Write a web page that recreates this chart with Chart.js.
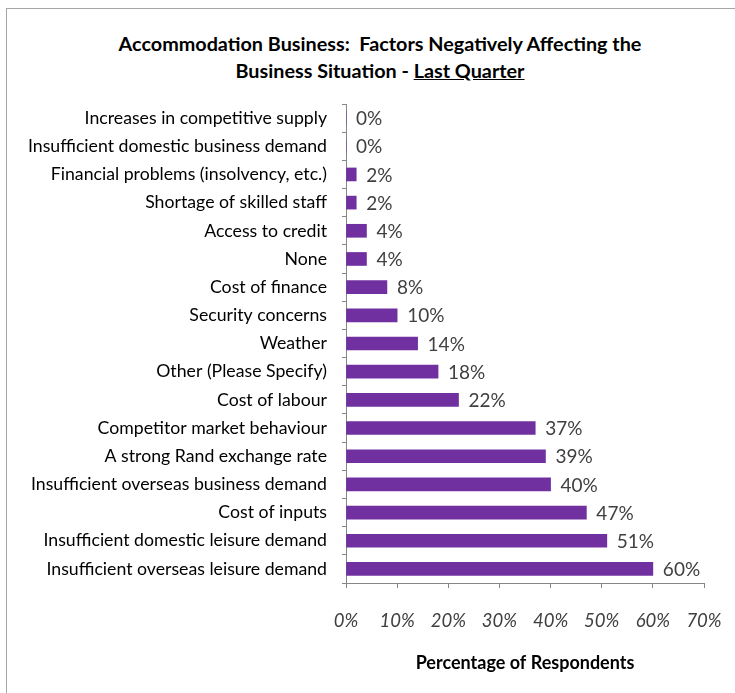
<!DOCTYPE html>
<html>
<head>
<meta charset="utf-8">
<script src="https://cdn.jsdelivr.net/npm/chart.js@4.4.1/dist/chart.umd.min.js"></script>
<style>
  html, body {
    margin: 0;
    padding: 0;
    background: #ffffff;
    overflow: hidden;
  }
  .frame {
    position: absolute;
    left: 6px;
    top: 8px;
    width: 760px;
    height: 720px;
    border: 1px solid #a6a6a6;
    box-sizing: border-box;
  }
  .title {
    position: absolute;
    left: 0;
    top: 30px;
    width: 760px;
    text-align: center;
    font-family: Lato, sans-serif;
    font-weight: bold;
    font-size: 19.8px;
    line-height: 27px;
    color: #000000;
  }
  .wrap {
    position: absolute;
    left: 0;
    top: 0;
    width: 735px;
    height: 693px;
  }
</style>
</head>
<body>
<div class="frame"></div>
<div class="title">Accommodation Business:&nbsp; Factors Negatively Affecting the<br>Business Situation - <u>Last Quarter</u></div>
<div class="wrap"><canvas id="chart"></canvas></div>
<script>
// Factors, top to bottom as they appear on the chart
const factors = [
  'Increases in competitive supply',
  'Insufficient domestic business demand',
  'Financial problems (insolvency, etc.)',
  'Shortage of skilled staff',
  'Access to credit',
  'None',
  'Cost of finance',
  'Security concerns',
  'Weather',
  'Other (Please Specify)',
  'Cost of labour',
  'Competitor market behaviour',
  'A strong Rand exchange rate',
  'Insufficient overseas business demand',
  'Cost of inputs',
  'Insufficient domestic leisure demand',
  'Insufficient overseas leisure demand'
];

// Share of respondents (%)
const respondents = [0, 0, 2, 2, 4, 4, 8, 10, 14, 18, 22, 37, 39, 40, 47, 51, 60];

// Axis range and step for the percentage scale
const axisMax = 70;
const axisStep = 10;

const barColour = '#7030a0';
const textColour = '#404040';
const lineColour = '#868686';

// Draws the "NN%" value just past the end of each bar
const valueLabels = {
  id: 'valueLabels',
  afterDatasetsDraw(chart) {
    const ctx = chart.ctx;
    const meta = chart.getDatasetMeta(0);
    ctx.save();
    ctx.font = '19px Lato, sans-serif';
    ctx.fillStyle = textColour;
    ctx.textAlign = 'left';
    ctx.textBaseline = 'middle';
    meta.data.forEach((bar, i) => {
      ctx.fillText(respondents[i] + '%', bar.x + 10, bar.y + 1);
    });
    ctx.restore();
  }
};

new Chart(document.getElementById('chart'), {
  type: 'bar',
  data: {
    labels: factors,
    datasets: [{
      data: respondents,
      backgroundColor: barColour,
      borderWidth: 0,
      barThickness: 13
    }]
  },
  options: {
    indexAxis: 'y',
    responsive: true,
    maintainAspectRatio: false,
    animation: false,
    layout: {
      padding: { top: 104, right: 31, left: 0, bottom: 15 }
    },
    plugins: {
      legend: { display: false },
      tooltip: { enabled: false }
    },
    scales: {
      x: {
        min: 0,
        max: axisMax,
        afterFit(scale) {
          scale.height = 95;
          // let the last tick label hang into the right padding
          scale.paddingLeft = 0;
          scale.paddingRight = 0;
        },
        grid: {
          drawOnChartArea: false,
          drawTicks: true,
          tickLength: 5,
          color: lineColour
        },
        border: { display: true, color: lineColour, width: 1 },
        ticks: {
          stepSize: axisStep,
          padding: 22,
          color: textColour,
          font: { family: 'Lato, sans-serif', size: 18.5, style: 'italic' },
          callback: (v) => v + '%'
        },
        title: {
          display: true,
          text: 'Percentage of Respondents',
          color: '#000000',
          font: { family: 'Lato, sans-serif', size: 18, weight: 'bold' }
        }
      },
      y: {
        afterFit(scale) { scale.width = 346; },
        grid: {
          offset: true,
          drawOnChartArea: false,
          drawTicks: true,
          tickLength: 4,
          color: lineColour
        },
        border: { display: true, color: lineColour, width: 1 },
        ticks: {
          padding: 15,
          color: '#000000',
          font: { family: 'Lato, sans-serif', size: 17.7 }
        }
      }
    }
  },
  plugins: [valueLabels]
});
</script>
</body>
</html>
